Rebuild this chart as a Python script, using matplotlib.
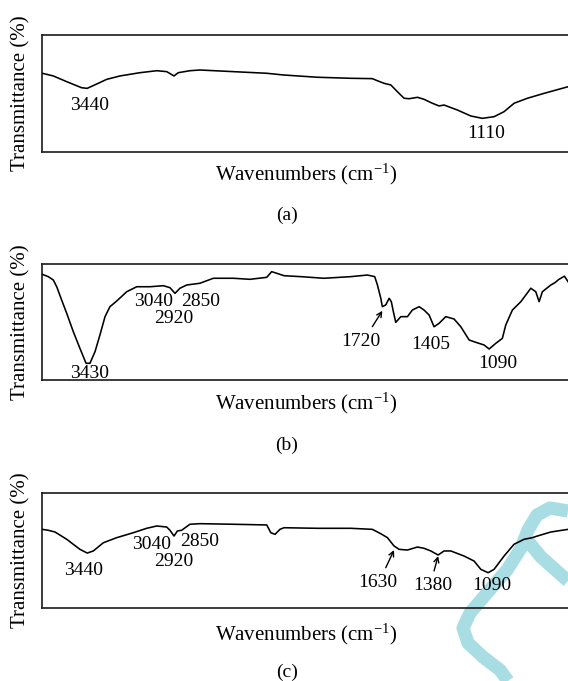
import matplotlib
matplotlib.use('Agg')
import matplotlib.pyplot as plt
from matplotlib.lines import Line2D

plt.rcParams['font.family'] = ['Liberation Serif', 'DejaVu Serif']
plt.rcParams['mathtext.fontset'] = 'custom'
plt.rcParams['mathtext.rm'] = 'Liberation Serif'
plt.rcParams['mathtext.it'] = 'Liberation Serif:italic'
plt.rcParams['mathtext.default'] = 'regular'

# ---------------- data (wavenumber cm-1, transmittance arbitrary %) -------------
wn_a = [3705, 3640, 3561, 3473, 3440, 3384, 3325, 3247, 3129, 3030, 2971, 2928,
        2903, 2834, 2775, 2578, 2381, 2279, 2082, 1885, 1758, 1728, 1689, 1649,
        1610, 1571, 1541, 1492, 1453, 1404, 1364, 1335, 1256, 1177, 1109, 1040,
        981, 922, 843, 745, 603]
t_a = [67.2, 64.9, 60.0, 54.8, 54.3, 58.0, 62.0, 64.9, 67.7, 69.4, 68.6, 64.9,
       67.7, 69.4, 70.0, 68.6, 67.2, 65.7, 63.8, 62.9, 62.6, 60.8, 58.6, 57.2,
       51.4, 45.8, 45.4, 46.6, 44.9, 41.5, 39.2, 40.0, 35.7, 30.6, 28.6, 30.0,
       34.3, 41.5, 45.8, 50.0, 55.7]

wn_b = [3705, 3670, 3640, 3620, 3591, 3561, 3522, 3483, 3447, 3424, 3394, 3365,
        3335, 3306, 3266, 3207, 3148, 3070, 2991, 2952, 2922, 2893, 2853, 2775,
        2696, 2578, 2480, 2381, 2352, 2322, 2279, 2180, 2043, 1885, 1787, 1744,
        1728, 1708, 1699, 1679, 1659, 1646, 1634, 1620, 1590, 1551, 1522, 1482,
        1453, 1423, 1394, 1364, 1325, 1276, 1236, 1187, 1148, 1099, 1069, 1030,
        991, 971, 932, 882, 823, 794, 774, 755, 705, 680, 660, 646, 625, 603]
t_b = [91.1, 89.1, 86.2, 80.4, 69.0, 57.5, 41.6, 27.3, 14.4, 14.4, 24.4, 38.8,
       54.6, 63.2, 68.1, 76.1, 80.4, 80.4, 81.3, 79.6, 74.7, 79.1, 81.9, 83.4,
       87.7, 87.7, 86.8, 88.5, 93.4, 92.0, 89.9, 89.1, 87.7, 89.1, 90.5, 89.1,
       81.9, 70.4, 63.2, 64.7, 70.4, 67.5, 58.9, 49.7, 54.6, 54.6, 60.3, 63.2,
       60.3, 56.0, 45.9, 48.9, 54.6, 52.6, 45.9, 34.5, 32.5, 30.2, 26.7, 31.6,
       35.9, 47.4, 60.3, 67.5, 79.1, 76.1, 67.5, 76.1, 81.9, 84.0, 86.5, 87.7,
       89.5, 84.7]

wn_c = [3705, 3670, 3630, 3561, 3483, 3440, 3404, 3345, 3266, 3168, 3089, 3030,
        2971, 2952, 2928, 2908, 2883, 2834, 2775, 2578, 2381, 2357, 2332, 2303,
        2279, 2082, 1885, 1758, 1708, 1669, 1630, 1600, 1551, 1492, 1453, 1413,
        1370, 1335, 1295, 1217, 1158, 1118, 1075, 1040, 981, 922, 863, 814, 785,
        705, 603]
t_c = [68.3, 67.5, 66.0, 59.7, 51.0, 47.8, 49.6, 56.7, 61.1, 65.4, 69.2, 71.2,
       70.3, 67.5, 62.5, 66.9, 67.5, 72.7, 73.2, 72.7, 72.1, 65.4, 64.0, 68.3,
       69.7, 69.2, 69.2, 68.3, 64.5, 61.1, 53.9, 51.0, 50.4, 53.0, 51.9, 49.6,
       46.1, 49.6, 49.6, 45.2, 40.9, 33.7, 30.8, 33.7, 45.2, 55.4, 59.7, 61.1,
       62.5, 66.0, 68.3]

# peak labels: (text, wavenumber, transmittance)
labels_a = [("3440", 3428, 39.4), ("1110", 1089, 15.8)]
labels_b = [("3430", 3428, 5.8), ("3040", 3050, 68.1), ("2850", 2769, 68.1),
            ("2920", 2928, 52.6), ("1720", 1826, 33.0), ("1405", 1413, 31.0),
            ("1090", 1020, 13.8)]
labels_c = [("3440", 3463, 33.1), ("3040", 3060, 54.8), ("2850", 2775, 57.6),
            ("2920", 2932, 40.3), ("1630", 1724, 22.1), ("1380", 1404, 19.3),
            ("1090", 1056, 19.3)]
# arrows: (tail wn, tail T, head wn, head T)
arrows_b = [(1758, 46.0, 1699, 59.7)]
arrows_c = [(1679, 35.1, 1630, 50.4), (1394, 32.3, 1370, 45.2)]

captions = ["(a)", "(b)", "(c)"]
xlabel = r"Wavenumbers (cm$^{-1}$)"
ylabel = "Transmittance (%)"

# ---------------- layout ----------------
W, H = 568, 681
fig = plt.figure(figsize=(W / 100, H / 100), dpi=100)

# watermark (decorative, behind the axes)
wm_color = '#A9DDE4'
wm1 = [(568, 511), (550, 508), (537, 515), (528, 530), (521, 548), (507, 570),
       (487, 593), (470, 613), (463, 628), (468, 643), (483, 657), (500, 670),
       (508, 681)]
wm2 = [(528, 541), (541, 557), (568, 581)]
for pts in (wm1, wm2):
    xs = [p[0] / W for p in pts]
    ys = [1 - p[1] / H for p in pts]
    fig.add_artist(Line2D(xs, ys, color=wm_color, lw=9.5, solid_capstyle='butt',
                          solid_joinstyle='round', zorder=0,
                          transform=fig.transFigure))

left_px, right_px = 42.3, 570
tops = [35, 264, 492.7]
bots = [151.7, 380, 608.3]
xlab_y = [174, 403.3, 634.3]
cap_y = [215, 445, 672.7]

series = [(wn_a, t_a, labels_a, []), (wn_b, t_b, labels_b, arrows_b),
          (wn_c, t_c, labels_c, arrows_c)]

FS = 14
for i, (wn, tt, labs, arrs) in enumerate(series):
    ax = fig.add_axes([left_px / W, 1 - bots[i] / H,
                       (right_px - left_px) / W, (bots[i] - tops[i]) / H])
    ax.set_facecolor('none')
    ax.plot(wn, tt, color='black', lw=1.15, zorder=3)
    ax.set_xlim(3705, 592)
    ax.set_ylim(0, 100)
    ax.set_xticks([])
    ax.set_yticks([])
    for s in ax.spines.values():
        s.set_linewidth(1.2)
        s.set_color('#1a1a1a')
    for txt, x, y in labs:
        ax.text(x, y, txt, ha='center', va='center', fontsize=FS, zorder=4)
    for x0, y0, x1, y1 in arrs:
        ax.annotate('', xy=(x1, y1), xytext=(x0, y0),
                    arrowprops=dict(arrowstyle='->', lw=1.0, color='black',
                                    shrinkA=0, shrinkB=0,
                                    mutation_scale=9))
    # y label
    fig.text(20.7 / W, 1 - (tops[i] + bots[i]) / 2 / H, ylabel, rotation=90,
             ha='center', va='center', fontsize=FS + 1)
    fig.text(306 / W, 1 - xlab_y[i] / H, xlabel, ha='center', va='center',
             fontsize=FS + 1)
    fig.text(287 / W, 1 - cap_y[i] / H, captions[i], ha='center', va='center',
             fontsize=FS)

fig.savefig('out.png', dpi=100)
